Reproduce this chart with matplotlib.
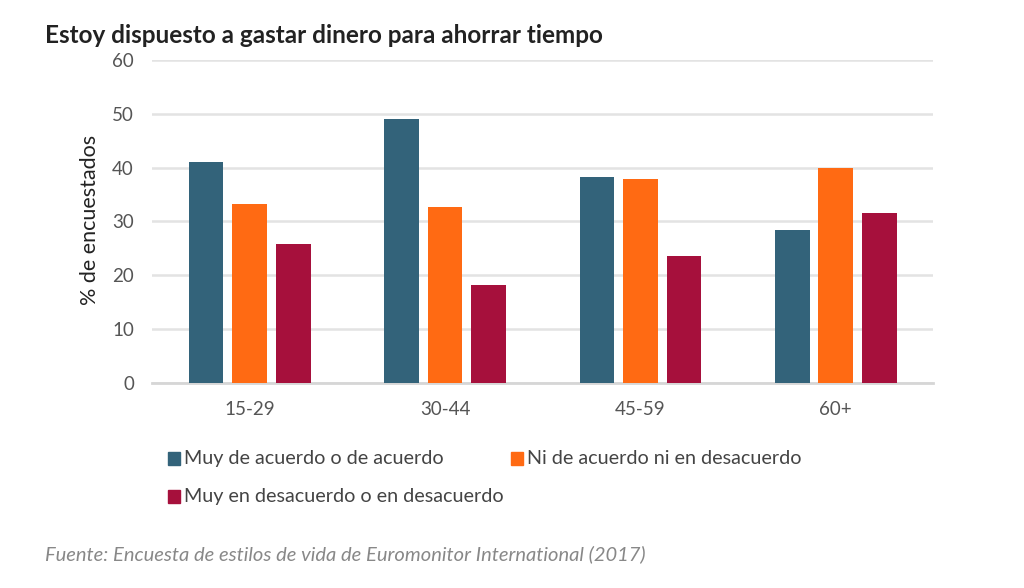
import numpy as np
import matplotlib.pyplot as plt
from matplotlib.patches import Rectangle

plt.rcParams["font.family"] = ["Lato", "DejaVu Sans"]

# datos
grupos = ["15-29", "30-44", "45-59", "60+"]
series = [
    "Muy de acuerdo o de acuerdo",
    "Ni de acuerdo ni en desacuerdo",
    "Muy en desacuerdo o en desacuerdo",
]
acuerdo = [41.1, 49.1, 38.3, 28.4]
neutral = [33.3, 32.7, 37.9, 40.0]
desacuerdo = [25.8, 18.2, 23.6, 31.6]
colores = ["#33637A", "#FF6A13", "#A6103C"]

fig = plt.figure(figsize=(10.24, 5.88), dpi=100)
ax = fig.add_axes([0.1484, 0.349, 0.7632, 0.549])

x = np.arange(len(grupos))
ancho = 0.177
paso = 0.223
for i, (vals, col) in enumerate(zip([acuerdo, neutral, desacuerdo], colores)):
    ax.bar(x + (i - 1) * paso, vals, width=ancho, color=col, zorder=3)

ax.set_xlim(-0.5, 3.5)
ax.set_ylim(0, 60)
ax.set_yticks(range(0, 61, 10))
ax.set_xticks(x, grupos)
ax.yaxis.grid(True, color="#e3e3e3", linewidth=1.8, zorder=0)
for s in ["top", "right", "left"]:
    ax.spines[s].set_visible(False)
ax.spines["bottom"].set_color("#d6d6d6")
ax.spines["bottom"].set_linewidth(2)
ax.tick_params(axis="both", length=0, labelsize=13.5, colors="#555555")
ax.tick_params(axis="x", pad=13)
ax.tick_params(axis="y", pad=13)

fig.text(90 / 1024, 0.626, "% de encuestados", rotation=90, ha="center", va="center",
         fontsize=15.5, color="#222222")

fig.text(0.044, 0.94, "Estoy dispuesto a gastar dinero para ahorrar tiempo",
         fontsize=17.5, fontweight="bold", color="#222222", va="center")

# leyenda manual
pos = [(168 / 1024, 0.221), (511 / 1024, 0.221), (168 / 1024, 0.155)]
for (px, py), nombre, col in zip(pos, series, colores):
    fig.patches.append(Rectangle((px, py - 0.011), 0.0122, 0.022, color=col,
                                 transform=fig.transFigure, figure=fig))
    fig.text(px + 0.0156, py, nombre, fontsize=14.2, color="#444444", va="center")

fig.text(0.044, 0.057, "Fuente: Encuesta de estilos de vida de Euromonitor International (2017)",
         fontsize=14.5, style="italic", color="#888888", va="center")

fig.savefig("out.png", dpi=100)
